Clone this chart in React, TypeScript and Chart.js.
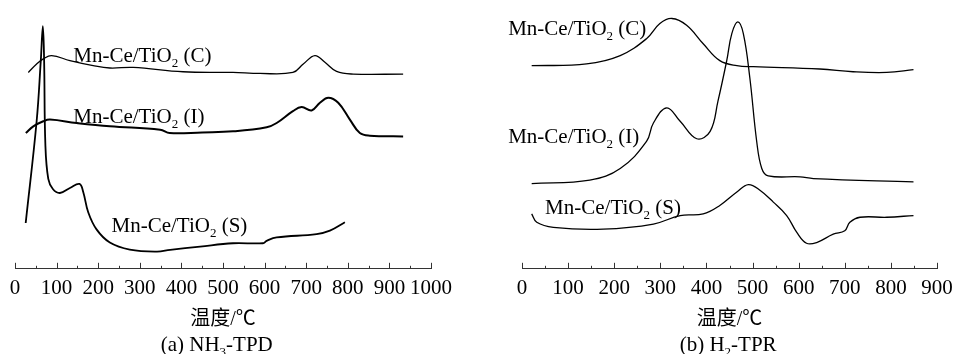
import { useEffect, useRef } from 'react';
import { Chart, registerables } from 'chart.js';

Chart.register(...registerables);

const FONT = "'Liberation Serif', 'Times New Roman', 'Noto Sans CJK SC', serif";
const AXIS_TITLE = '温度/℃';

// ---------- (a) NH3-TPD ----------
const tpdMax = 1000;
const tpdC_T = [32, 52, 68, 88, 132, 188, 228, 284, 404, 524, 589, 668, 693, 721, 745, 773, 813, 933];
const tpdC_V = [194.3, 202.7, 207.7, 211, 206, 201, 198.7, 199.3, 195, 194.3, 193.3, 194.3, 202.7, 211, 204.3, 195.3, 192.7, 192.7];
const tpdI_T = [26, 44, 68, 84, 148, 228, 349, 372, 450, 524, 605, 629, 668, 689, 713, 733, 753, 777, 805, 829, 853, 933];
const tpdI_V = [134.3, 141, 146, 147.7, 144.3, 141, 137.7, 134.3, 135, 136, 140, 144.3, 156, 160, 156.7, 164.3, 169.3, 164.3, 147.7, 134.3, 131.7, 131];
const tpdS_T = [25.7, 52, 62, 67, 70, 73, 80, 91, 108, 132, 155, 164, 176, 196, 228, 276, 341, 373, 445, 524, 596, 605, 629, 725, 757, 793];
const tpdS_V = [45.3, 146, 206, 240, 206, 123, 89, 79, 75, 80, 84, 76, 56, 39, 26, 19, 17, 18.7, 22, 25.3, 25.3, 27.7, 31, 34.3, 37.7, 46];

// ---------- (b) H2-TPR ----------
const tprMax = 900;
const tprC_T = [21, 140, 213, 270, 299, 325, 357, 393, 429, 466, 502, 646, 718, 791, 849];
const tprC_V = [201, 202.7, 211, 227.7, 242.7, 247.7, 241, 222.7, 206, 201, 200, 197.7, 195, 194.3, 197];
const tprI_T = [21, 147, 213, 270, 285, 314, 343, 379, 408, 425, 444, 455, 468, 480, 494, 509, 520, 534, 603, 632, 849];
const tprI_V = [84.3, 87.7, 99.3, 126, 144.3, 159.3, 146, 128.7, 136, 166, 206, 232.7, 244.3, 232.7, 189.3, 126, 99.3, 92, 91, 89.3, 86];
const tprS_T = [21, 32, 68, 176, 285, 343, 393, 429, 466, 491, 516, 545, 574, 596, 617, 639, 675, 700, 711, 733, 791, 849];
const tprS_V = [54.3, 46, 41, 39.3, 44.3, 52.7, 54.3, 62.7, 76, 83.3, 77.7, 66, 52.7, 36, 25.3, 26, 34.3, 37.7, 46, 51, 51, 52.7];

const seriesNames = ['C', 'I', 'S'];

type Part = [string, boolean];
const sampleLabel = (s: string): Part[] => [['Mn-Ce/TiO', false], ['2', true], [` (${s})`, false]];

function drawRich(ctx: CanvasRenderingContext2D, parts: Part[], x: number, y: number, align: 'left' | 'center', size: number) {
  const main = `${size}px ${FONT}`;
  const sub = `${Math.round(size * 0.62)}px ${FONT}`;
  let total = 0;
  const widths = parts.map(([t, s]) => {
    ctx.font = s ? sub : main;
    const w = ctx.measureText(t).width;
    total += w;
    return w;
  });
  let cx = align === 'center' ? x - total / 2 : x;
  ctx.textBaseline = 'alphabetic';
  ctx.textAlign = 'left';
  ctx.fillStyle = '#000';
  parts.forEach(([t, s], i) => {
    ctx.font = s ? sub : main;
    ctx.fillText(t, cx, s ? y + 5 : y);
    cx += widths[i];
  });
}

const decoPlugin = {
  id: 'deco',
  afterDraw(chart: any, _args: any, opts: any) {
    const ctx: CanvasRenderingContext2D = chart.ctx;
    const xs = chart.scales.x;
    const ys = chart.scales.y;
    const bottom = chart.chartArea.bottom;
    ctx.save();
    ctx.strokeStyle = '#333';
    ctx.lineWidth = 1;
    for (let v = xs.min; v <= xs.max + 0.001; v += 50) {
      const px = Math.round(xs.getPixelForValue(v)) + 0.5;
      const len = v % 100 === 0 ? 6 : 3;
      ctx.beginPath();
      ctx.moveTo(px, bottom);
      ctx.lineTo(px, bottom - len);
      ctx.stroke();
    }
    for (const lab of opts.labels) {
      drawRich(ctx, sampleLabel(lab.name), xs.getPixelForValue(lab.x), ys.getPixelForValue(lab.y), 'left', 21);
    }
    drawRich(ctx, opts.caption, xs.getPixelForValue(opts.captionX), chart.height - 3.5, 'center', 21);
    ctx.restore();
  },
};

const mk = (T: number[], V: number[]) => T.map((t, i) => ({ x: t, y: V[i] }));

function makeConfig(p: {
  max: number;
  data: { T: number[]; V: number[]; w: number }[];
  labels: { name: string; x: number; y: number }[];
  caption: Part[];
  captionX: number;
  padL: number;
  padR: number;
}): any {
  return {
    type: 'line',
    data: {
      datasets: p.data.map((d, i) => ({
        label: seriesNames[i],
        data: mk(d.T, d.V),
        borderColor: '#000',
        borderWidth: d.w,
        pointRadius: 0,
        fill: false,
        tension: 0.4,
      })),
    },
    options: {
      animation: false,
      responsive: false,
      maintainAspectRatio: false,
      layout: { padding: { left: p.padL, right: p.padR, top: 0, bottom: 22 } },
      plugins: {
        legend: { display: false },
        tooltip: { enabled: false },
        deco: { labels: p.labels, caption: p.caption, captionX: p.captionX },
      },
      scales: {
        x: {
          type: 'linear',
          min: 0,
          max: p.max,
          position: 'bottom',
          grid: { drawOnChartArea: false, drawTicks: false },
          border: { display: true, color: '#333', width: 1 },
          ticks: {
            stepSize: 100,
            padding: 7,
            color: '#000',
            autoSkip: false,
            maxRotation: 0,
            font: { family: FONT, size: 21 },
            callback: (v: any) => String(v),
          },
          title: {
            display: true,
            text: AXIS_TITLE,
            color: '#000',
            font: { family: FONT, size: 20 },
            padding: { top: 0, bottom: 0 },
          },
          afterFit: (s: any) => {
            s.paddingLeft = 0;
            s.paddingRight = 0;
          },
        },
        y: { display: false, min: 0, max: 266 },
      },
    },
    plugins: [decoPlugin],
  };
}

function Panel({ left, width, config }: { left: number; width: number; config: () => any }) {
  const ref = useRef<HTMLCanvasElement>(null);
  useEffect(() => {
    if (!ref.current) return;
    const chart = new Chart(ref.current, config());
    return () => chart.destroy();
  }, []);
  return (
    <canvas
      ref={ref}
      width={width}
      height={354}
      style={{ position: 'absolute', left, top: 0, width, height: 354 }}
    />
  );
}

export default function App() {
  const tpd = () =>
    makeConfig({
      max: tpdMax,
      data: [
        { T: tpdC_T, V: tpdC_V, w: 1.3 },
        { T: tpdI_T, V: tpdI_V, w: 2 },
        { T: tpdS_T, V: tpdS_V, w: 1.8 },
      ],
      labels: [
        { name: 'C', x: 140, y: 204.3 },
        { name: 'I', x: 140, y: 144 },
        { name: 'S', x: 232, y: 36 },
      ],
      caption: [['(a) NH', false], ['3', true], ['-TPD', false]],
      captionX: 485,
      padL: 15,
      padR: 45,
    });
  const tpr = () =>
    makeConfig({
      max: tprMax,
      data: [
        { T: tprC_T, V: tprC_V, w: 1.3 },
        { T: tprI_T, V: tprI_V, w: 1.3 },
        { T: tprS_T, V: tprS_V, w: 1.3 },
      ],
      labels: [
        { name: 'C', x: -30, y: 231 },
        { name: 'I', x: -30, y: 124.3 },
        { name: 'S', x: 50, y: 54.3 },
      ],
      caption: [['(b) H', false], ['2', true], ['-TPR', false]],
      captionX: 447,
      padL: 46,
      padR: 16,
    });
  return (
    <div style={{ position: 'fixed', left: 0, top: 0, width: 953, height: 354, background: '#fff' }}>
      <Panel left={0} width={476} config={tpd} />
      <Panel left={476} width={477} config={tpr} />
    </div>
  );
}
